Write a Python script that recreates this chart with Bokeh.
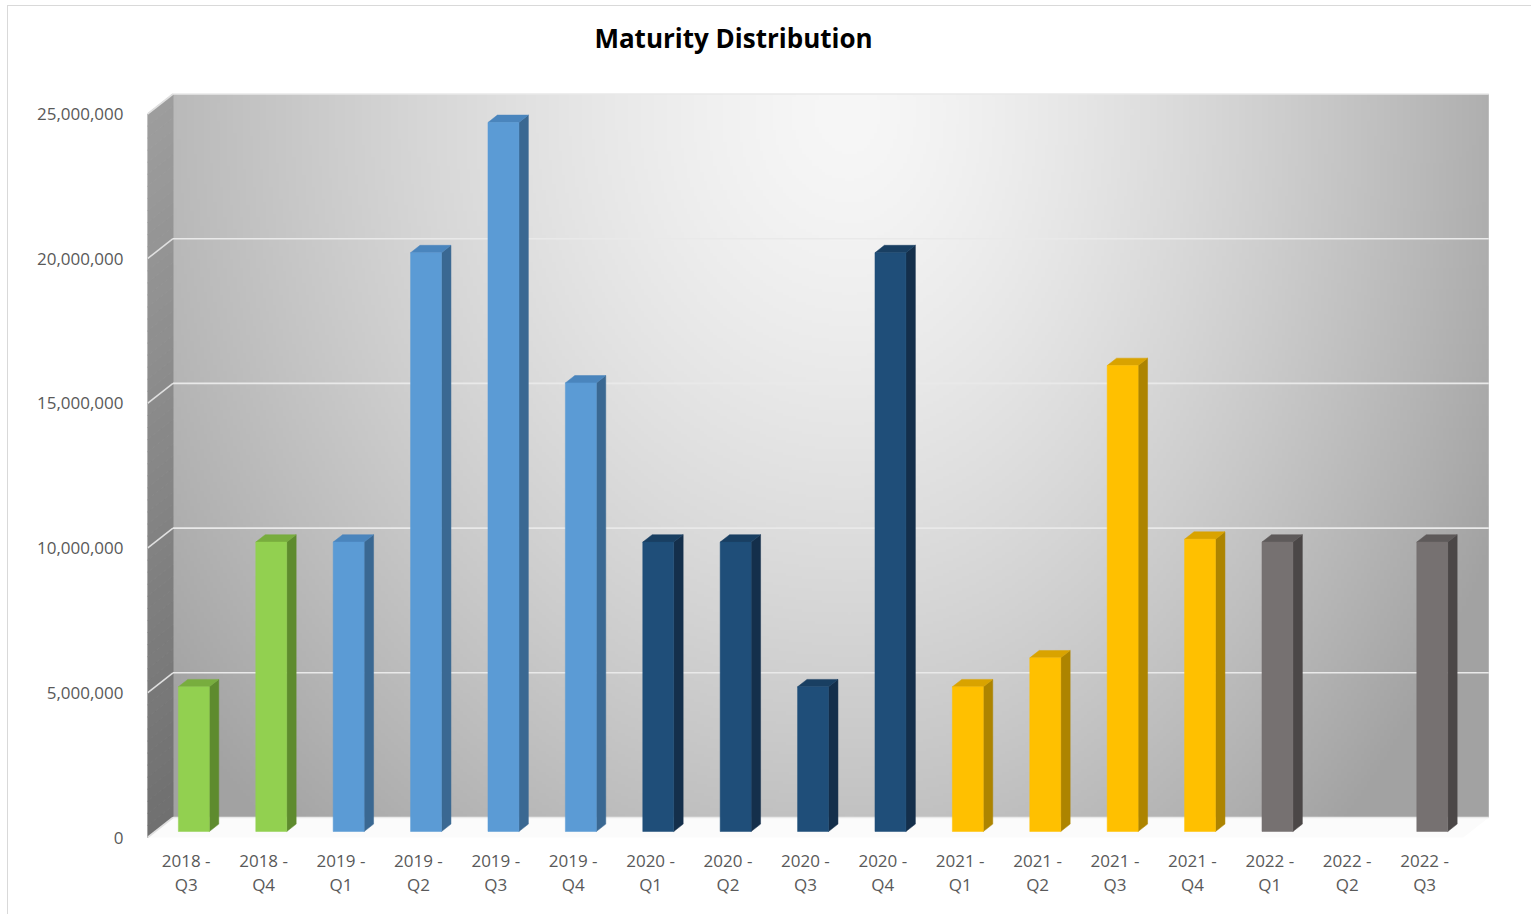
import numpy as np
from bokeh.plotting import figure
from bokeh.models import Range1d, FixedTicker, NumeralTickFormatter, Label
from bokeh.embed import file_html
from bokeh.resources import INLINE

# ---------------- data ----------------
quarters = ["2018 - Q3", "2018 - Q4", "2019 - Q1", "2019 - Q2", "2019 - Q3", "2019 - Q4",
            "2020 - Q1", "2020 - Q2", "2020 - Q3", "2020 - Q4", "2021 - Q1", "2021 - Q2",
            "2021 - Q3", "2021 - Q4", "2022 - Q1", "2022 - Q2", "2022 - Q3"]
values = [5_000_000, 10_000_000, 10_000_000, 20_000_000, 24_500_000, 15_500_000,
          10_000_000, 10_000_000, 5_000_000, 20_000_000, 5_000_000, 6_000_000,
          16_100_000, 10_100_000, 10_000_000, 0, 10_000_000]
y_ticks = [0, 5_000_000, 10_000_000, 15_000_000, 20_000_000, 25_000_000]
title_text = "Maturity Distribution"

# ---------------- styles ----------------
year_colors = {  # front, side, top
    "2018": ("#92D050", "#5E8B2E", "#78AD3E"),
    "2019": ("#5B9BD5", "#3A6892", "#4A85BD"),
    "2020": ("#1F4E79", "#142F4B", "#193F62"),
    "2021": ("#FFC000", "#AD8400", "#D9A300"),
    "2022": ("#767171", "#4B4747", "#5E5A5A"),
}
FONT = "Open Sans"
OX, OY = 8, 6            # canvas origin on the page
W, H = 1531 - OX, 914 - OY
PX_CAT = 77.4            # pixels per category
PX_PER_UNIT = 28.94e-6   # pixels per value unit (front plane)
UNIT_PER_PX = 1 / PX_PER_UNIT
XD = 25.5 / PX_CAT       # depth offset in x (data)
YD = 20.0 * UNIT_PER_PX  # depth offset in y (data)
F0, F1 = 0.30, 0.67      # bar depth fractions
BW = 0.40                # bar front width
X0 = -0.5
N = len(quarters)
X1 = N - 0.5
YMAX = y_ticks[-1]

MB_L, MB_R, MB_T, MB_B = 147 - OX, 1531 - 1490, 0, 914 - 840
frame_w = W - MB_L - MB_R
frame_h = H - MB_T - MB_B
x_start = X0
x_end = X0 + frame_w / PX_CAT
y_start = -(840 - 837) * UNIT_PER_PX
y_end = y_start + frame_h * UNIT_PER_PX

p = figure(width=W, height=H, output_backend="svg", toolbar_location=None,
           x_range=Range1d(x_start, x_end), y_range=Range1d(y_start, y_end),
           min_border_left=MB_L, min_border_right=MB_R, min_border_top=MB_T,
           min_border_bottom=MB_B)
p.outline_line_color = None
p.xgrid.visible = False
p.ygrid.visible = False
p.background_fill_color = "white"
p.border_fill_color = "white"
p.styles = {"margin-left": "%dpx" % OX, "margin-top": "%dpx" % OY,
            "outline": "1px solid #d9d9d9"}

# ---------------- back wall (radial gradient) ----------------
nx, ny = 400, 240
u = np.linspace(0, 1, nx)
t = np.linspace(0, 1, ny)
U, T = np.meshgrid(u, t)
px = 172 + U * 1318
py = 817 - T * 724
dx = np.where(px < 850, (px - 850) / 760.0, (px - 850) / 640.0)
dy = (py - 110) / 880.0
r = np.sqrt(dx ** 2 + dy ** 2)
v = np.clip(247 - 72 * r ** 1.4, 162, 247).astype(np.uint8)
img = np.empty((ny, nx), dtype=np.uint32)
view = img.view(dtype=np.uint8).reshape((ny, nx, 4))
view[:, :, 0] = v
view[:, :, 1] = v
view[:, :, 2] = v
view[:, :, 3] = 255
p.image_rgba(image=[img], x=X0 + XD, y=YD, dw=X1 - X0, dh=YMAX)

# ---------------- left wall (vertical gradient) ----------------
nsl = 60
xs, ys, cols = [], [], []
for k in range(nsl):
    a0 = YMAX * k / nsl
    a1 = YMAX * (k + 1) / nsl
    xs.append([X0, X0 + XD, X0 + XD, X0])
    ys.append([a0, a0 + YD, a1 + YD, a1])
    g = int(112 + (158 - 112) * (k + 0.5) / nsl)
    cols.append("#%02x%02x%02x" % (g, g, g))
p.patches(xs, ys, fill_color=cols, line_color=cols, line_width=1)

# ---------------- floor ----------------
p.patch([X0, X1, X1 + XD, X0 + XD], [0, 0, YD, YD], fill_color="#fbfbfb", line_color=None)

# ---------------- gridlines ----------------
p.segment(x0=[X0 + XD] * len(y_ticks), y0=[tk + YD for tk in y_ticks],
          x1=[X1 + XD] * len(y_ticks), y1=[tk + YD for tk in y_ticks],
          line_color="#e9e9e9", line_width=1.6)
p.segment(x0=[X0] * len(y_ticks), y0=y_ticks,
          x1=[X0 + XD] * len(y_ticks), y1=[tk + YD for tk in y_ticks],
          line_color="#e0e0e0", line_width=1.6)

# ---------------- 3D bars ----------------
fl, fr, fb, ft = [], [], [], []
fcol = []
sxs, sys_, scol = [], [], []
txs, tys, tcol = [], [], []
dxb = (F1 - F0) * XD
dyb = (F1 - F0) * YD
for i, (q, val) in enumerate(zip(quarters, values)):
    if val <= 0:
        continue
    front, side, top = year_colors[q[:4]]
    xc = i + F0 * XD
    base = F0 * YD
    topv = val + base
    l, rr = xc - BW / 2, xc + BW / 2
    fl.append(l); fr.append(rr); fb.append(base); ft.append(topv); fcol.append(front)
    sxs.append([rr, rr + dxb, rr + dxb, rr])
    sys_.append([base, base + dyb, topv + dyb, topv])
    scol.append(side)
    txs.append([l, rr, rr + dxb, l + dxb])
    tys.append([topv, topv, topv + dyb, topv + dyb])
    tcol.append(top)

p.patches(sxs, sys_, fill_color=scol, line_color=scol, line_width=0.5)
p.patches(txs, tys, fill_color=tcol, line_color=tcol, line_width=0.5)
p.quad(left=fl, right=fr, bottom=fb, top=ft, fill_color=fcol, line_color=fcol, line_width=0.5)

# ---------------- axes ----------------
p.yaxis.ticker = FixedTicker(ticks=y_ticks)
p.yaxis.formatter = NumeralTickFormatter(format="0,0")
p.yaxis.axis_line_color = None
p.yaxis.major_tick_line_color = None
p.yaxis.minor_tick_line_color = None
p.yaxis.major_tick_out = 0
p.yaxis.major_label_standoff = 24
p.yaxis.major_label_text_font = FONT
p.yaxis.major_label_text_font_size = "17px"
p.yaxis.major_label_text_color = "#595959"

p.xaxis.ticker = FixedTicker(ticks=list(range(N)))
p.xaxis.major_label_overrides = {i: q.replace(" - ", " -\n") for i, q in enumerate(quarters)}
p.xaxis.axis_line_color = None
p.xaxis.major_tick_line_color = None
p.xaxis.minor_tick_line_color = None
p.xaxis.major_tick_out = 0
p.xaxis.major_label_standoff = 8
p.xaxis.major_label_text_font = FONT
p.xaxis.major_label_text_font_size = "17px"
p.xaxis.major_label_text_color = "#595959"
p.xaxis.major_label_text_line_height = 1.08

# ---------------- title ----------------
title_x = (733 - 185.7) / PX_CAT
title_y = (837 - 37) * UNIT_PER_PX
p.add_layout(Label(x=title_x, y=title_y, text=title_text, text_align="center",
                   text_baseline="middle", text_font=FONT, text_font_style="bold",
                   text_font_size="26px", text_color="#000000"))

open("out.html", "w").write(file_html(p, INLINE))
